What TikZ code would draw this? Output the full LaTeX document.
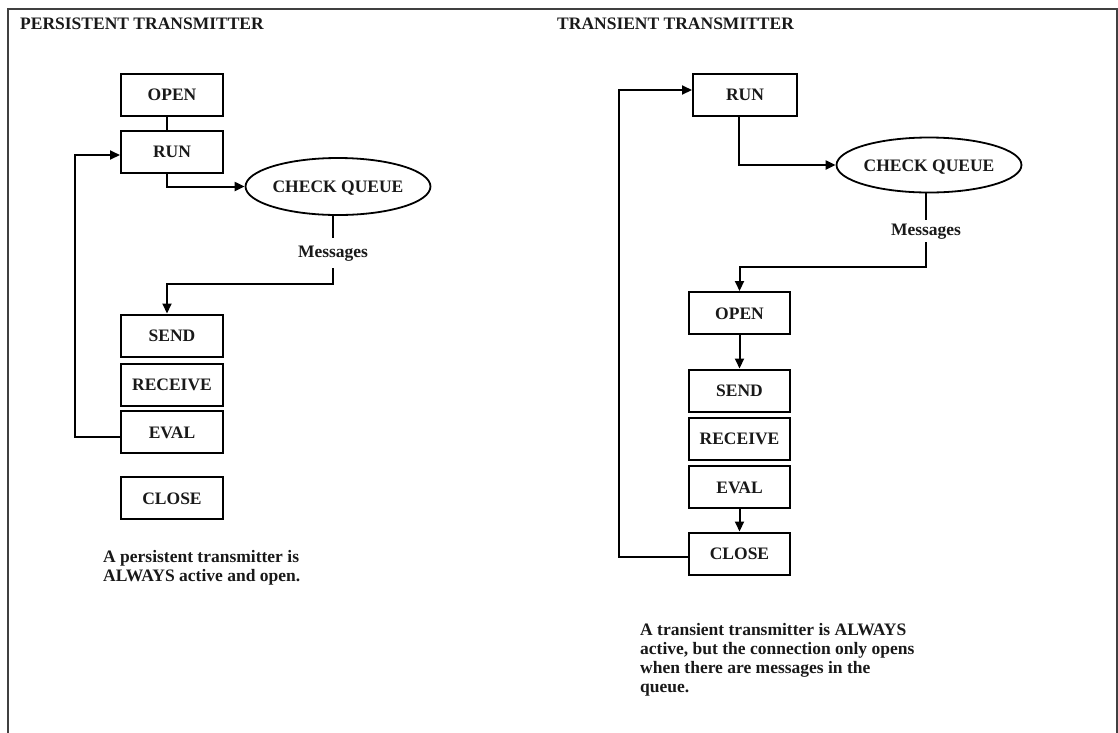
\documentclass[tikz,border=0pt]{standalone}
\usepackage{fontspec}
\setmainfont{Liberation Serif}
\usetikzlibrary{arrows.meta,shapes.geometric}
\begin{document}
\begin{tikzpicture}[x=1pt,y=-1pt,
  every node/.style={font=\fontsize{17.5}{19}\selectfont\bfseries, text=black!90},
  procbox/.style={draw, line width=2pt, minimum width=102pt, minimum height=42pt,
                  inner sep=0pt, text height=12pt, text depth=0pt},
  decision/.style={draw, ellipse, line width=1.8pt, inner sep=0pt,
                   text height=12pt, text depth=0pt},
  flow/.style={line width=2pt},
  arr/.style={flow, -{Triangle[length=10pt,width=9pt]}},
  heading/.style={anchor=west, inner sep=0pt},
  note/.style={anchor=north west, align=left, inner sep=0pt},
  msgtag/.style={inner xsep=2pt, text height=12pt, text depth=4pt},
  frame/.style={line width=2.8pt, draw=black!75}
]
\useasboundingbox (0,0) rectangle (1118,732);

% outer frame (open at the bottom)
\draw[frame] (8,740) -- (8,9) -- (1117,9) -- (1117,740);

% ---------------- persistent transmitter ----------------
\node[heading] (lTitle) at (20,24) {PERSISTENT TRANSMITTER};

\node[procbox] (lOpen)  at (172,94.5)  {OPEN};
\node[procbox] (lRun)   at (172,151.5) {RUN};
\node[decision, minimum width=177pt, minimum height=57pt] (lCheck) at (338,186.5) {CHECK QUEUE};
\node[msgtag, inner ysep=7pt] (lMsg) at (333,253) {Messages};
\node[procbox] (lSend)  at (172,335.5) {SEND};
\node[procbox] (lRecv)  at (172,384.5) {RECEIVE};
\node[procbox] (lEval)  at (172,432)   {EVAL};
\node[procbox] (lClose) at (172,498)   {CLOSE};

\node[note] (lNote) at (103,550) {A persistent transmitter is\\ALWAYS active and open.};

\coordinate (lBend) at (75,155);

\draw[flow] ([xshift=-5pt]lOpen.south) -- ([xshift=-5pt]lRun.north);
\draw[arr]  ([xshift=-5pt]lRun.south) |- (lCheck.west);
\draw[flow] (lMsg.north) -- (lMsg.north |- lCheck.south);
\draw[arr]  (lMsg.south) -- ++(0,16) -| ([xshift=-5pt]lSend.north);
\draw[arr]  ([yshift=-5pt]lEval.west) -| (lBend) |- ([yshift=-3.5pt]lRun.west);

% ---------------- transient transmitter ----------------
\node[heading] (rTitle) at (557,24) {TRANSIENT TRANSMITTER};

\node[procbox, minimum width=104pt] (rRun) at (745,94.5) {RUN};
\node[decision, minimum width=178pt, minimum height=55pt] (rCheck) at (929,165) {CHECK QUEUE};
\node[msgtag, inner ysep=3pt] (rMsg) at (926,231) {Messages};
\node[procbox, minimum width=101pt] (rOpen)  at (739.5,313)   {OPEN};
\node[procbox, minimum width=101pt] (rSend)  at (739.5,390.5) {SEND};
\node[procbox, minimum width=101pt] (rRecv)  at (739.5,438.5) {RECEIVE};
\node[procbox, minimum width=101pt] (rEval)  at (739.5,487)   {EVAL};
\node[procbox, minimum width=101pt] (rClose) at (739.5,553.5) {CLOSE};

\node[note] (rNote) at (640,623) {A transient transmitter is ALWAYS\\active, but the connection only opens\\when there are messages in the\\queue.};

\coordinate (rBend) at (619,90);

\draw[arr]  ([xshift=-6pt]rRun.south) |- (rCheck.west);
\draw[flow] (rMsg.north) -- (rMsg.north |- rCheck.south);
\draw[arr]  (rMsg.south) -- ++(0,25) -| (rOpen.north);
\draw[arr]  (rOpen.south) -- (rSend.north);
\draw[arr]  (rEval.south) -- (rClose.north);
\draw[arr]  ([yshift=-3.5pt]rClose.west) -| (rBend) |- ([yshift=4.5pt]rRun.west);

\end{tikzpicture}
\end{document}
